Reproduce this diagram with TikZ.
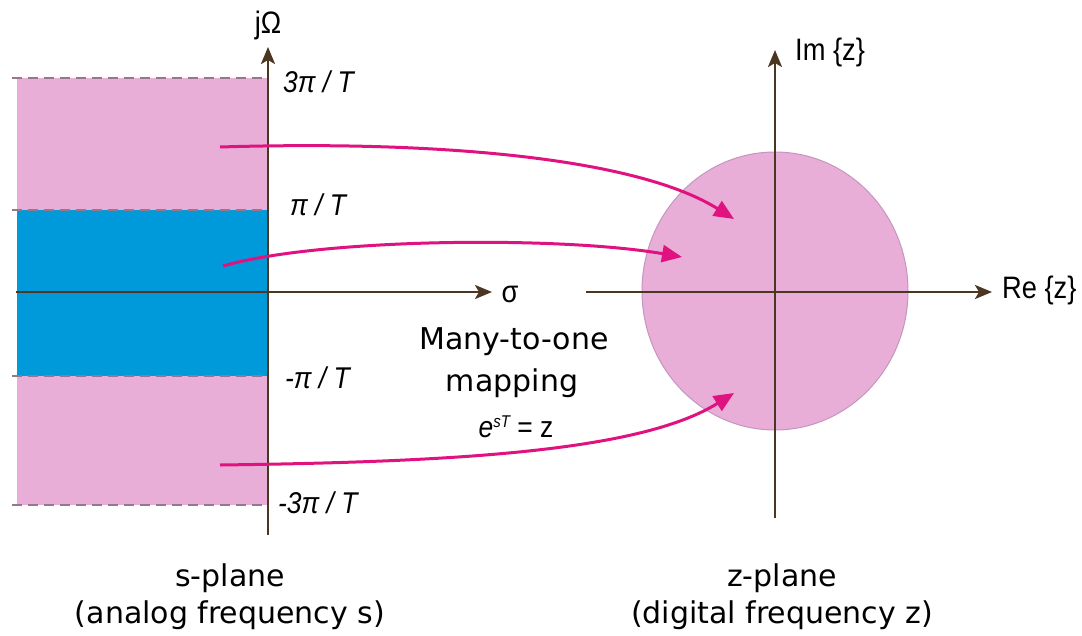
\documentclass[tikz,border=0pt]{standalone}
\usepackage{fontspec}
\setmainfont{DejaVu Sans}
\newfontfamily\labfont[FakeStretch=0.88]{Liberation Sans}
\usetikzlibrary{arrows.meta}
\definecolor{pinkfill}{RGB}{232,174,216}
\definecolor{bluefill}{RGB}{0,153,218}
\definecolor{axiscol}{RGB}{75,54,33}
\definecolor{mag}{RGB}{224,18,127}
\definecolor{dashcol}{RGB}{150,120,140}
\definecolor{circedge}{RGB}{196,150,190}
\begin{document}
\begin{tikzpicture}[x=1pt,y=-1pt,
  axisline/.style={draw=axiscol,line width=2.5pt,-{Stealth[length=17pt,width=14pt,inset=4pt]}},
  bandline/.style={draw=dashcol,line width=1.5pt,dash pattern=on 10pt off 6pt},
  maparrow/.style={draw=mag,line width=3pt,-{Triangle[length=20pt,width=17pt]}},
  axlabel/.style={inner sep=0pt,font=\labfont\fontsize{31}{32}\selectfont},
  ticklabel/.style={inner sep=0pt,anchor=west,font=\labfont\itshape\fontsize{30}{31}\selectfont},
  caption/.style={inner sep=0pt,align=center,font=\fontsize{30}{37}\selectfont}
]
\useasboundingbox (0,0) rectangle (1082,635);
% s-plane bands
\fill[pinkfill] (17,78) rectangle (268,210);
\fill[bluefill] (17,210) rectangle (268,376);
\fill[pinkfill] (17,376) rectangle (268,505);
\foreach \yy in {78,210,376,505} \draw[bandline] (12,\yy) -- (268,\yy);
% z-plane unit region
\draw[fill=pinkfill,draw=circedge,line width=1pt] (775,291) ellipse [x radius=133, y radius=139];
% coordinates
\coordinate (sO) at (268,292);
\coordinate (sL) at (16,292);
\coordinate (sR) at (492,292);
\coordinate (sB) at (268,535);
\coordinate (sT) at (268,47);
\coordinate (zL) at (586,292);
\coordinate (zR) at (992,292);
\coordinate (zB) at (775,518);
\coordinate (zT) at (775,50);
% axes
\draw[axisline] (sL) -- (sR);
\draw[axisline] (sB) -- (sT);
\draw[axisline] (zL) -- (zR);
\draw[axisline] (zB) -- (zT);
% mapping arrows
\coordinate (a1s) at (220,147); \coordinate (a1e) at (734,219);
\coordinate (a2s) at (223,266); \coordinate (a2e) at (682,257);
\coordinate (a3s) at (220,465); \coordinate (a3e) at (734,393);
\draw[maparrow] (a1s) .. controls (450,140) and (640,160) .. (a1e);
\draw[maparrow] (a2s) .. controls (320,238) and (560,236) .. (a2e);
\draw[maparrow] (a3s) .. controls (450,462) and (640,452) .. (a3e);
% labels
\node[axlabel] (jw) at (268,25) {jΩ};
\node[axlabel] (sig) at (510,294) {σ};
\node[axlabel,anchor=west] (imz) at (795,52) {Im {\{}z{\}}};
\node[axlabel,anchor=west] (rez) at (1002,290) {Re {\{}z{\}}};
\node[ticklabel] (t3) at (283,82) {3π / T};
\node[ticklabel] (t1) at (290,205) {π / T};
\node[ticklabel] (tm1) at (285,378) {-π / T};
\node[ticklabel] (tm3) at (278,503) {-3π / T};
\node[caption] (many) at (514,342) {Many-to-one};
\node[caption] (mapp) at (512,383) {mapping};
\node[inner sep=0pt,font=\labfont\fontsize{30}{31}\selectfont] (eq) at (516,427) {\textit{e}\raisebox{10pt}{\fontsize{17}{17}\selectfont\itshape sT} = z};
\node[caption] (splane) at (230,597) {s-plane\\(analog frequency s)};
\node[caption] (zplane) at (782,597) {z-plane\\(digital frequency z)};
\end{tikzpicture}
\end{document}
